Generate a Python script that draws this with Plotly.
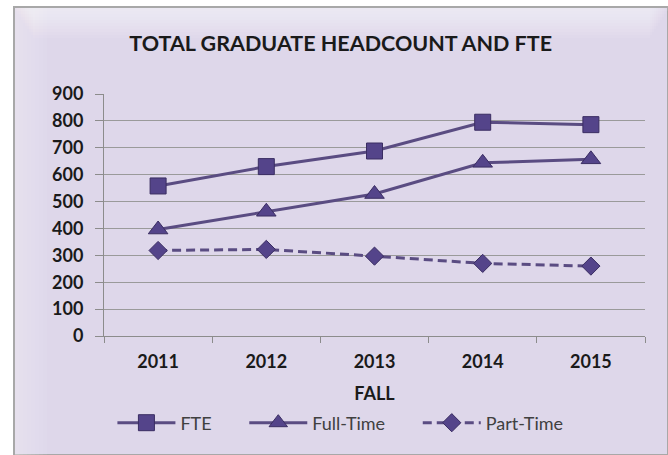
import plotly.graph_objects as go

years = ["2011", "2012", "2013", "2014", "2015"]
fte = [558, 630, 688, 795, 786]
full_time = [396, 462, 528, 644, 657]
part_time = [318, 322, 297, 270, 260]
series_names = ["FTE", "Full-Time", "Part-Time"]

LINE = "#5A4C82"
FILL = "#54448A"
EDGE = "#3A2D62"
FONT = "Lato, 'Open Sans', sans-serif"
PAD = "\u00a0" * 6  # extra room between legend entries

fig = go.Figure()
fig.add_trace(go.Scatter(
    x=years, y=fte, name=series_names[0] + PAD, mode="lines+markers",
    line=dict(color=LINE, width=3),
    marker=dict(symbol="square", size=16, color=FILL, line=dict(color=EDGE, width=1)),
))
fig.add_trace(go.Scatter(
    x=years, y=full_time, name=series_names[1] + PAD, mode="lines+markers",
    line=dict(color=LINE, width=3),
    marker=dict(symbol="triangle-up", size=17, color=FILL, line=dict(color=EDGE, width=1)),
))
fig.add_trace(go.Scatter(
    x=years, y=part_time, name=series_names[2], mode="lines+markers",
    line=dict(color=LINE, width=3, dash="9px,5px"),
    marker=dict(symbol="diamond", size=14, color=FILL, line=dict(color=EDGE, width=1)),
))

# chart frame: lavender panel with a soft bevel, gray border
W, H = 668, 455
ml, mr, mt, mb = 104, 23, 94, 119
pw, ph = W - ml - mr, H - mt - mb


def px(x):
    return (x - ml) / pw


def py(y):
    return 1 - (y - mt) / ph


shapes = [
    dict(type="rect", xref="paper", yref="paper", layer="below",
         x0=px(14), x1=px(668), y0=py(455), y1=py(7),
         fillcolor="#DED7EA", line=dict(color="#A8A8A8", width=2)),
]
# lighter bevel band along the top and left
for i in range(10):
    shapes.append(dict(type="rect", xref="paper", yref="paper", layer="below",
                       x0=px(15 + i * 2), x1=px(668 - i * 2), y0=py(8 + 3 * (i + 1)), y1=py(8),
                       fillcolor="rgba(255,255,255,0.07)", line=dict(width=0)))
for i in range(8):
    shapes.append(dict(type="rect", xref="paper", yref="paper", layer="below",
                       x0=px(15), x1=px(15 + 4 * (i + 1)), y0=py(455), y1=py(8),
                       fillcolor="rgba(255,255,255,0.05)", line=dict(width=0)))

fig.update_layout(
    width=W, height=H,
    margin=dict(l=ml, r=mr, t=mt, b=mb),
    paper_bgcolor="white",
    plot_bgcolor="white",
    font=dict(family=FONT, color="#1A1A1A"),
    title=dict(text="<b>TOTAL GRADUATE HEADCOUNT AND FTE</b>", x=0.51, xanchor="center",
               y=1 - 43 / H, yanchor="middle", font=dict(size=21.5, color="#1A1A1A")),
    shapes=shapes,
    showlegend=True,
    legend=dict(orientation="h", x=0.437, xanchor="center", y=py(423), yanchor="middle",
                font=dict(size=18, color="#404040"), bgcolor="rgba(0,0,0,0)",
                itemwidth=58, tracegroupgap=0),
    xaxis=dict(
        type="category", range=[-0.5, 4.5],
        showline=True, linecolor="#8C8C8C", linewidth=1,
        ticks="outside", ticklen=6, tickcolor="#8C8C8C", tickson="boundaries",
        showgrid=False,
        tickfont=dict(size=18, color="#1A1A1A", family=FONT, weight="bold"),
        ticklabelstandoff=9,
        title=dict(text="<b>FALL</b>", font=dict(size=18, color="#1A1A1A"), standoff=16),
    ),
    yaxis=dict(
        range=[0, 900], dtick=100,
        showline=True, linecolor="#8C8C8C", linewidth=1,
        ticks="outside", ticklen=8, tickcolor="#8C8C8C",
        showgrid=True, gridcolor="#9A9A9A", gridwidth=1,
        zeroline=False,
        tickfont=dict(size=18, color="#1A1A1A", family=FONT, weight="bold"),
        ticklabelstandoff=8,
    ),
)

fig.write_html("out.html")
